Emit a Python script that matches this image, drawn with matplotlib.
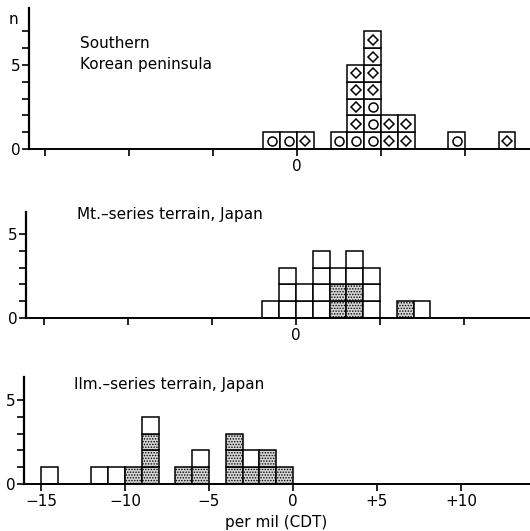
import matplotlib
matplotlib.use('Agg')
import matplotlib.pyplot as plt

plt.rcParams['font.family'] = ['DejaVu Sans']
plt.rcParams['hatch.linewidth'] = 0.7

# box codes, bottom to top: o = circle, d = diamond, s = stippled, e = empty
korea_bins = [-2, -1, 0, 2, 3, 4, 5, 6, 9, 12]
korea_stacks = ['o', 'o', 'd', 'o', 'odddd', 'ooodddd', 'dd', 'dd', 'o', 'd']

mt_bins = [-2, -1, 0, 1, 2, 3, 4, 6, 7]
mt_stacks = ['e', 'eee', 'ee', 'eeee', 'sse', 'ssee', 'eee', 's', 'e']

ilm_bins = [-15, -12, -11, -10, -9, -7, -6, -4, -3, -2, -1]
ilm_stacks = ['e', 'e', 'e', 's', 'ssse', 's', 'se', 'sss', 'se', 'ss', 's']

x_ticks = [-15, -10, -5, 0, 5, 10]
x_ticklabels = ['\u221215', '\u221210', '\u22125', '0', '+5', '+10']

W, H = 530, 531
UNIT = 16.8  # pixels per unit in both directions
FS = 11

fig = plt.figure(figsize=(W / 100, H / 100), dpi=100)


def make_axes(left_px, zero_px, base_px, top_px, ymax_tick):
    ax = fig.add_axes([left_px / W, (H - base_px) / H,
                       (W - left_px) / W, (base_px - top_px) / H])
    ax.set_xlim((left_px - zero_px) / UNIT, (W - zero_px) / UNIT)
    ax.set_ylim(0, (base_px - top_px) / UNIT)
    for s in ['top', 'right']:
        ax.spines[s].set_visible(False)
    ax.spines['left'].set_linewidth(1.6)
    ax.spines['bottom'].set_linewidth(1.4)
    ax.set_xticks(x_ticks)
    ax.tick_params(axis='x', direction='out', length=5, width=1.2, labelsize=FS, pad=2)
    ax.set_yticks([0, 5])
    ax.set_yticks(range(1, ymax_tick + 1), minor=True)
    ax.tick_params(axis='y', which='both', direction='out', length=5, width=1.2,
                   labelsize=FS, pad=1)
    return ax


def draw_stacks(ax, bins, stacks):
    for x, stack in zip(bins, stacks):
        for level, code in enumerate(stack):
            if code == 's':
                ax.bar(x, 1, width=1, bottom=level, align='edge', facecolor='#d6d6d6',
                       edgecolor='black', linewidth=1.1, hatch='......')
            else:
                ax.bar(x, 1, width=1, bottom=level, align='edge', facecolor='white',
                       edgecolor='black', linewidth=1.1)
            if code == 'o':
                ax.plot(x + 0.5, level + 0.5, marker='o', ms=6.5, mfc='white',
                        mec='black', mew=1.1)
            elif code == 'd':
                ax.plot(x + 0.5, level + 0.5, marker='D', ms=5.2, mfc='white',
                        mec='black', mew=1.1)


def fig_text(x_px, y_px, s, **kw):
    fig.text(x_px / W, 1 - y_px / H, s, fontsize=FS, va='center', **kw)


ax1 = make_axes(29, 297, 149, 8, 7)
draw_stacks(ax1, korea_bins, korea_stacks)
ax1.set_xticklabels(['', '', '', '0', '', ''])
fig_text(13, 20, 'n', ha='center')
fig_text(80, 43, 'Southern')
fig_text(80, 64, 'Korean peninsula')

ax2 = make_axes(26, 296, 318, 212, 5)
draw_stacks(ax2, mt_bins, mt_stacks)
ax2.set_xticklabels(['', '', '', '0', '', ''])
fig_text(77, 215, 'Mt.\u2013series terrain, Japan')

ax3 = make_axes(24, 293, 484, 377, 5)
draw_stacks(ax3, ilm_bins, ilm_stacks)
ax3.set_xticklabels(x_ticklabels)
fig_text(74, 385, 'Ilm.\u2013series terrain, Japan')
fig_text(276, 522, 'per mil (CDT)', ha='center')

fig.savefig('out.png', dpi=100)
